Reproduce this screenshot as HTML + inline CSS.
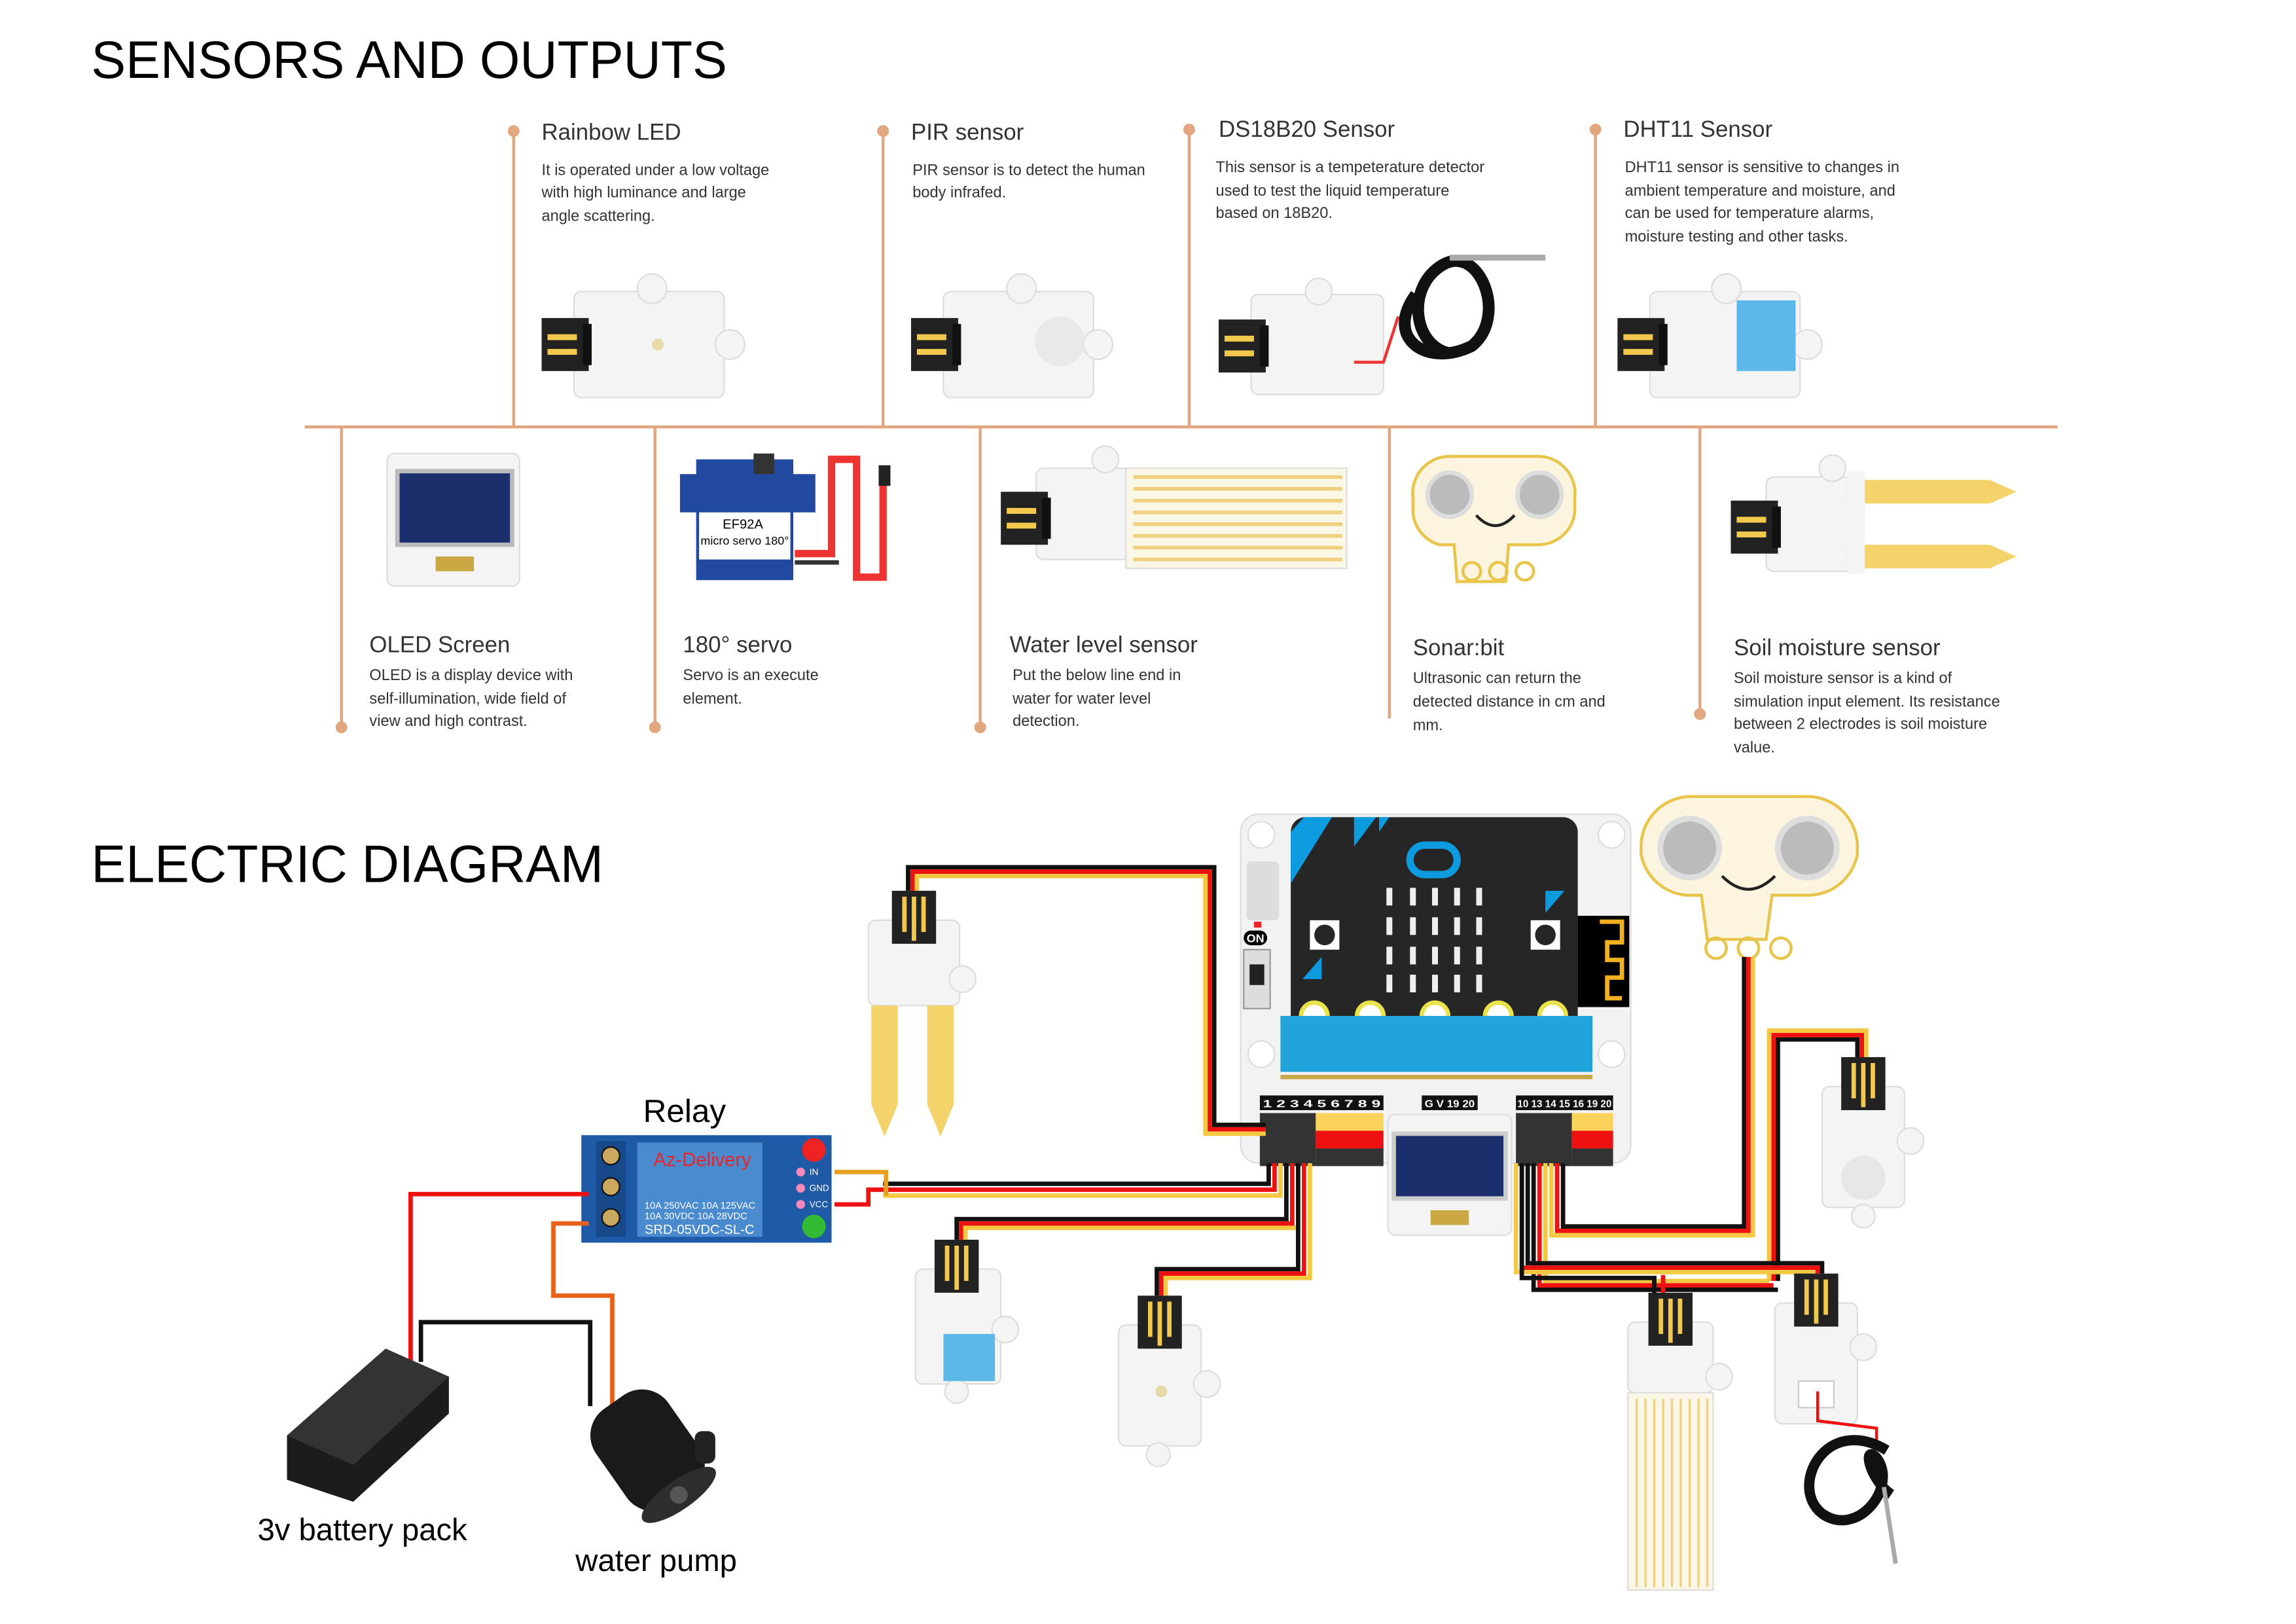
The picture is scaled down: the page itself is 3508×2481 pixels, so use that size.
<!DOCTYPE html>
<html><head><meta charset="utf-8"><style>
html,body{margin:0;padding:0;background:#fff;}
svg{display:block;}
text{font-family:"Liberation Sans",sans-serif;}
</style></head><body>
<svg width="3508" height="2481" viewBox="0 0 1560 1103" preserveAspectRatio="none" xmlns="http://www.w3.org/2000/svg">
<defs>
<g id="hc"><rect x="0" y="0" width="32" height="36" fill="#222"/><rect x="4" y="11" width="20" height="4" fill="#f2c94c"/><rect x="4" y="21" width="20" height="4" fill="#f2c94c"/><rect x="28" y="4" width="6" height="28" fill="#111"/></g>
<g id="vc"><rect x="0" y="0" width="30" height="36" fill="#222"/><rect x="7" y="4" width="3" height="24" fill="#f2c94c"/><rect x="13.5" y="4" width="3" height="30" fill="#f2c94c"/><rect x="20" y="4" width="3" height="24" fill="#f2c94c"/></g>
</defs>

<text x="62" y="53" font-size="36" textLength="432" lengthAdjust="spacingAndGlyphs">SENSORS AND OUTPUTS</text>
<text x="62" y="599" font-size="36" textLength="348" lengthAdjust="spacingAndGlyphs">ELECTRIC DIAGRAM</text>

<g stroke="#e2a77f" stroke-width="2" fill="none">
<line x1="207" y1="290" x2="1398" y2="290"/>
<line x1="349" y1="90" x2="349" y2="290"/><line x1="600" y1="90" x2="600" y2="290"/>
<line x1="808" y1="88" x2="808" y2="290"/><line x1="1084" y1="88" x2="1084" y2="290"/>
<line x1="232" y1="290" x2="232" y2="494"/><line x1="445" y1="290" x2="445" y2="494"/>
<line x1="666" y1="290" x2="666" y2="494"/><line x1="944" y1="290" x2="944" y2="488"/>
<line x1="1155" y1="290" x2="1155" y2="485"/>
</g>
<g fill="#e2a77f">
<circle cx="349" cy="89" r="4"/><circle cx="600" cy="89" r="4"/><circle cx="808" cy="88" r="4"/><circle cx="1084" cy="88" r="4"/>
<circle cx="232" cy="494" r="4"/><circle cx="445" cy="494" r="4"/><circle cx="666" cy="494" r="4"/><circle cx="1155" cy="485" r="4"/>
</g>

<g font-size="15.5" fill="#333">
<text x="368" y="95">Rainbow LED</text><text x="619" y="95">PIR sensor</text>
<text x="828" y="93">DS18B20 Sensor</text><text x="1103" y="93">DHT11 Sensor</text>
<text x="251" y="443">OLED Screen</text><text x="464" y="443">180° servo</text>
<text x="686" y="443">Water level sensor</text><text x="960" y="445">Sonar:bit</text>
<text x="1178" y="445">Soil moisture sensor</text>
</g>
<g font-size="10.5" fill="#333">
<text x="368" y="119">It is operated under a low voltage</text><text x="368" y="134">with high luminance and large</text><text x="368" y="150">angle scattering.</text>
<text x="620" y="119">PIR sensor is to detect the human</text><text x="620" y="134">body infrafed.</text>
<text x="826" y="117">This sensor is a tempeterature detector</text><text x="826" y="133">used to test the liquid temperature</text><text x="826" y="148">based on 18B20.</text>
<text x="1104" y="117">DHT11 sensor is sensitive to changes in</text><text x="1104" y="133">ambient temperature and moisture, and</text><text x="1104" y="148">can be used for temperature alarms,</text><text x="1104" y="164">moisture testing and other tasks.</text>
<text x="251" y="462">OLED is a display device with</text><text x="251" y="478">self-illumination, wide field of</text><text x="251" y="493">view and high contrast.</text>
<text x="464" y="462">Servo is an execute</text><text x="464" y="478">element.</text>
<text x="688" y="462">Put the below line end in</text><text x="688" y="478">water for water level</text><text x="688" y="493">detection.</text>
<text x="960" y="464">Ultrasonic can return the</text><text x="960" y="480">detected distance in cm and</text><text x="960" y="496">mm.</text>
<text x="1178" y="464">Soil moisture sensor is a kind of</text><text x="1178" y="480">simulation input element. Its resistance</text><text x="1178" y="495">between 2 electrodes is soil moisture</text><text x="1178" y="511">value.</text>
</g>

<g>
<rect x="390" y="198" width="102" height="72" rx="5" fill="#f4f4f4" stroke="#ddd"/><circle cx="443" cy="196" r="10" fill="#f4f4f4" stroke="#ddd"/><circle cx="496" cy="234" r="10" fill="#f4f4f4" stroke="#ddd"/>
<use href="#hc" x="368" y="216"/><circle cx="447" cy="234" r="4" fill="#e8d9a8"/>
<rect x="641" y="198" width="102" height="72" rx="5" fill="#f4f4f4" stroke="#ddd"/><circle cx="694" cy="196" r="10" fill="#f4f4f4" stroke="#ddd"/><circle cx="746" cy="234" r="10" fill="#f4f4f4" stroke="#ddd"/>
<use href="#hc" x="619" y="216"/><circle cx="720" cy="232" r="17" fill="#e9e9e9"/>
<rect x="850" y="200" width="90" height="68" rx="5" fill="#f4f4f4" stroke="#ddd"/><circle cx="896" cy="198" r="9" fill="#f4f4f4" stroke="#ddd"/>
<use href="#hc" x="828" y="217"/>
<path d="M920 246 L940 246 L950 215" stroke="#e33" stroke-width="2" fill="none"/>
<path d="M962 200 C940 230 970 250 1000 235 C1025 215 1005 165 980 180 C955 195 960 235 985 240" stroke="#111" stroke-width="8" fill="none"/>
<path d="M985 175 L1050 175" stroke="#aaa" stroke-width="4"/>
<rect x="1121" y="198" width="102" height="72" rx="5" fill="#f4f4f4" stroke="#ddd"/><circle cx="1173" cy="196" r="10" fill="#f4f4f4" stroke="#ddd"/><circle cx="1228" cy="234" r="10" fill="#f4f4f4" stroke="#ddd"/>
<use href="#hc" x="1099" y="216"/><rect x="1180" y="204" width="40" height="48" fill="#5bb8e8"/>
</g>

<g>
<rect x="263" y="308" width="90" height="90" rx="5" fill="#f4f4f4" stroke="#ddd"/><rect x="270" y="320" width="78" height="50" fill="#1b2f6e" stroke="#bbb" stroke-width="3"/><rect x="296" y="378" width="26" height="10" fill="#caa844"/>
<rect x="462" y="322" width="92" height="26" fill="#1f4aa0"/><rect x="473" y="312" width="66" height="82" fill="#1f4aa0"/><rect x="475" y="348" width="62" height="32" fill="#fff"/><rect x="512" y="308" width="14" height="14" fill="#333"/>
<text x="491" y="359" font-size="9" fill="#000">EF92A</text><text x="476" y="370" font-size="8" fill="#000">micro servo 180°</text>
<path d="M540 376 L565 376 L565 312 L582 312 L582 392 L600 392 L600 325" stroke="#e33" stroke-width="5" fill="none"/><path d="M540 382 L570 382" stroke="#333" stroke-width="3"/><rect x="597" y="316" width="8" height="14" fill="#222"/>
<rect x="704" y="318" width="64" height="62" rx="5" fill="#f4f4f4" stroke="#ddd"/><circle cx="751" cy="312" r="9" fill="#f4f4f4" stroke="#ddd"/>
<rect x="765" y="318" width="150" height="68" fill="#fbf7e6" stroke="#ddd"/>
<g stroke="#f0d080" stroke-width="2.5"><line x1="770" y1="324" x2="912" y2="324"/><line x1="770" y1="332" x2="912" y2="332"/><line x1="770" y1="340" x2="912" y2="340"/><line x1="770" y1="348" x2="912" y2="348"/><line x1="770" y1="356" x2="912" y2="356"/><line x1="770" y1="364" x2="912" y2="364"/><line x1="770" y1="372" x2="912" y2="372"/><line x1="770" y1="380" x2="912" y2="380"/></g>
<use href="#hc" x="680" y="334"/>
<path d="M960 338 a25 25 0 0 1 25 -28 l60 0 a25 25 0 0 1 25 28 l0 10 a25 25 0 0 1 -25 22 l-20 0 l-2 25 l-33 0 l-2 -25 l-10 0 a25 25 0 0 1 -18 -22z" fill="#fbf5df" stroke="#e8c44a" stroke-width="2"/>
<circle cx="985" cy="336" r="15" fill="#bbb" stroke="#ddd" stroke-width="3"/><circle cx="1046" cy="336" r="15" fill="#bbb" stroke="#ddd" stroke-width="3"/>
<path d="M1003 350 q13 14 26 0" stroke="#222" stroke-width="2" fill="none"/>
<circle cx="1000" cy="388" r="6" fill="none" stroke="#e8c44a" stroke-width="2"/><circle cx="1018" cy="388" r="6" fill="none" stroke="#e8c44a" stroke-width="2"/><circle cx="1036" cy="388" r="6" fill="none" stroke="#e8c44a" stroke-width="2"/>
<rect x="1200" y="324" width="60" height="64" rx="5" fill="#f4f4f4" stroke="#ddd"/><circle cx="1245" cy="318" r="9" fill="#f4f4f4" stroke="#ddd"/>
<path d="M1255 326 L1352 326 L1370 334 L1352 342 L1255 342z" fill="#f5d36b"/><path d="M1255 370 L1352 370 L1370 378 L1352 386 L1255 386z" fill="#f5d36b"/>
<rect x="1255" y="320" width="12" height="70" fill="#f4f4f4"/>
<use href="#hc" x="1176" y="340"/>
</g>

<rect x="843" y="553" width="265" height="237" rx="12" fill="#f2f2f2" stroke="#ddd"/>
<circle cx="857" cy="567" r="9" fill="#fff" stroke="#ddd"/><circle cx="1095" cy="567" r="9" fill="#fff" stroke="#ddd"/><circle cx="857" cy="716" r="9" fill="#fff" stroke="#ddd"/><circle cx="1095" cy="716" r="9" fill="#fff" stroke="#ddd"/>
<path d="M886 555 L1062 555 a10 10 0 0 1 10 10 L1072 690 L877 690 L877 565 a10 10 0 0 1 9 -10z" fill="#262626"/>
<path d="M877 600 L877 565 L886 555 L905 555z M920 555 L935 555 L920 575z M937 555 L944 555 L937 565z" fill="#0d9be0"/>
<rect x="958" y="574" width="32" height="20" rx="10" fill="none" stroke="#0d9be0" stroke-width="5"/>
<g fill="#eee"><rect x="942" y="603" width="4" height="12"/><rect x="958" y="603" width="4" height="12"/><rect x="973" y="603" width="4" height="12"/><rect x="988" y="603" width="4" height="12"/><rect x="1003" y="603" width="4" height="12"/>
<rect x="942" y="623" width="4" height="12"/><rect x="958" y="623" width="4" height="12"/><rect x="973" y="623" width="4" height="12"/><rect x="988" y="623" width="4" height="12"/><rect x="1003" y="623" width="4" height="12"/>
<rect x="942" y="643" width="4" height="12"/><rect x="958" y="643" width="4" height="12"/><rect x="973" y="643" width="4" height="12"/><rect x="988" y="643" width="4" height="12"/><rect x="1003" y="643" width="4" height="12"/>
<rect x="942" y="662" width="4" height="12"/><rect x="958" y="662" width="4" height="12"/><rect x="973" y="662" width="4" height="12"/><rect x="988" y="662" width="4" height="12"/><rect x="1003" y="662" width="4" height="12"/></g>
<rect x="890" y="625" width="20" height="20" fill="#fff"/><circle cx="900" cy="635" r="7" fill="#262626"/>
<rect x="1040" y="625" width="20" height="20" fill="#fff"/><circle cx="1050" cy="635" r="7" fill="#262626"/>
<path d="M885 665 L898 650 L898 665z" fill="#0d9be0"/><path d="M1050 605 L1063 605 L1050 620z" fill="#0d9be0"/>
<rect x="1072" y="622" width="35" height="62" fill="#000"/><path d="M1087 626 L1102 626 L1102 640 L1092 640 L1092 652 L1102 652 L1102 664 L1092 664 L1092 678 L1102 678" stroke="#f0b020" stroke-width="3" fill="none"/>
<circle cx="893" cy="690" r="9" fill="#fff" stroke="#e9e24a" stroke-width="3"/><circle cx="931" cy="690" r="9" fill="#fff" stroke="#e9e24a" stroke-width="3"/><circle cx="975" cy="690" r="9" fill="#fff" stroke="#e9e24a" stroke-width="3"/><circle cx="1018" cy="690" r="9" fill="#fff" stroke="#e9e24a" stroke-width="3"/><circle cx="1055" cy="690" r="9" fill="#fff" stroke="#e9e24a" stroke-width="3"/>
<rect x="870" y="690" width="212" height="38" fill="#22a3dc"/>
<rect x="870" y="730" width="212" height="3" fill="#c9a84a"/>
<rect x="847" y="585" width="22" height="40" rx="3" fill="#ddd"/><rect x="852" y="626" width="5" height="4" fill="#e22"/>
<rect x="845" y="632" width="16" height="10" rx="5" fill="#000"/><text x="847" y="640" font-size="8" fill="#fff" font-weight="bold">ON</text>
<rect x="845" y="645" width="18" height="40" fill="#ddd" stroke="#999"/><rect x="849" y="655" width="10" height="14" fill="#222"/>
<g font-size="7" font-weight="bold" fill="#fff">
<rect x="856" y="744" width="84" height="10" fill="#111"/><text x="858" y="752" textLength="80" lengthAdjust="spacingAndGlyphs">1 2 3 4 5 6 7 8 9</text>
<rect x="966" y="744" width="38" height="10" fill="#111"/><text x="968" y="752" textLength="34" lengthAdjust="spacingAndGlyphs">G V 19 20</text>
<rect x="1030" y="744" width="66" height="10" fill="#111"/><text x="1031" y="752" textLength="64" lengthAdjust="spacingAndGlyphs">10 13 14 15 16 19 20</text>
</g>
<rect x="856" y="756" width="38" height="36" fill="#333"/><rect x="894" y="756" width="46" height="12" fill="#fbd35a"/><rect x="894" y="768" width="46" height="12" fill="#e11"/><rect x="894" y="780" width="46" height="12" fill="#333"/>
<rect x="1030" y="756" width="38" height="36" fill="#333"/><rect x="1068" y="756" width="28" height="12" fill="#fbd35a"/><rect x="1068" y="768" width="28" height="12" fill="#e11"/><rect x="1068" y="780" width="28" height="12" fill="#333"/>
<rect x="943" y="757" width="84" height="82" rx="5" fill="#f4f4f4" stroke="#ddd"/><rect x="947" y="770" width="76" height="44" fill="#1b2f6e" stroke="#ccc" stroke-width="3"/><rect x="972" y="822" width="26" height="10" fill="#caa844"/>

<path d="M1115 575 a34 34 0 0 1 34 -34 l80 0 a34 34 0 0 1 33 34 l0 5 a34 34 0 0 1 -33 28 l-25 0 l-4 30 l-40 0 l-4 -30 l-10 0 a34 34 0 0 1 -31 -28z" fill="#fbf5df" stroke="#e8c44a" stroke-width="2"/>
<circle cx="1148" cy="576" r="20" fill="#bbb" stroke="#ddd" stroke-width="4"/><circle cx="1228" cy="576" r="20" fill="#bbb" stroke="#ddd" stroke-width="4"/>
<path d="M1170 595 q18 18 36 0" stroke="#222" stroke-width="2" fill="none"/>
<circle cx="1166" cy="644" r="7" fill="none" stroke="#e8c44a" stroke-width="2"/><circle cx="1188" cy="644" r="7" fill="none" stroke="#e8c44a" stroke-width="2"/><circle cx="1210" cy="644" r="7" fill="none" stroke="#e8c44a" stroke-width="2"/>

<g fill="none" stroke-width="3" stroke-linejoin="miter">
<polyline stroke="#111" points="617,605 617,589 825,589 825,764 860,764"/>
<polyline stroke="#e11" points="620,605 620,592 822,592 822,767 860,767"/>
<polyline stroke="#f5c842" points="623,605 623,595 819,595 819,770 860,770"/>
<polyline stroke="#111" points="600,804 862,804 862,790"/>
<polyline stroke="#e11" points="600,808 866,808 866,790"/>
<polyline stroke="#f5c842" points="600,812 870,812 870,790"/>
<polyline stroke="#e8a020" points="567,796 602,796 602,812"/>
<polyline stroke="#e11" points="567,818 590,818 590,808 600,808"/>
<polyline stroke="#111" points="650,842 650,828 874,828 874,790"/>
<polyline stroke="#e11" points="653,842 653,831 878,831 878,790"/>
<polyline stroke="#f5c842" points="656,842 656,834 882,834 882,790"/>
<polyline stroke="#111" points="786,880 786,862 882,862 882,790"/>
<polyline stroke="#e11" points="789,880 789,865 886,865 886,790"/>
<polyline stroke="#f5c842" points="792,880 792,868 890,868 890,790"/>
<polyline stroke="#111" points="1185,650 1185,833 1062,833 1062,790"/>
<polyline stroke="#e11" points="1188,650 1188,836 1058,836 1058,790"/>
<polyline stroke="#f5c842" points="1191,650 1191,839 1054,839 1054,790"/>
<polyline stroke="#111" points="1208,870 1208,706 1262,706 1262,718"/>
<polyline stroke="#e11" points="1205,870 1205,703 1265,703 1265,718"/>
<polyline stroke="#f5c842" points="1202,870 1202,700 1268,700 1268,718"/>
<polyline stroke="#f5c842" points="1050,790 1050,870 1202,870"/>
<polyline stroke="#e11" points="1046,790 1046,873 1205,873"/>
<polyline stroke="#111" points="1042,790 1042,876 1208,876"/>
<polyline stroke="#111" points="1038,790 1038,858 1238,858 1238,865"/>
<polyline stroke="#e11" points="1034,790 1034,861 1235,861 1235,865"/>
<polyline stroke="#f5c842" points="1030,790 1030,864 1232,864 1232,865"/>
<polyline stroke="#111" points="1124,880 1124,868 1034,868 1034,790"/>
<polyline stroke="#e11" points="1130,880 1130,866"/>
</g>

<rect x="395" y="771" width="170" height="73" fill="#1e5aa5"/>
<rect x="405" y="775" width="20" height="65" fill="#17498a"/>
<circle cx="415" cy="785" r="6" fill="#c9a860" stroke="#111"/><circle cx="415" cy="806" r="6" fill="#c9a860" stroke="#111"/><circle cx="415" cy="827" r="6" fill="#c9a860" stroke="#111"/>
<rect x="433" y="776" width="85" height="64" fill="#4a8bd0"/>
<text x="444" y="792" font-size="13" fill="#e22">Az-Delivery</text>
<text x="438" y="821" font-size="6.5" fill="#fff">10A 250VAC 10A 125VAC</text><text x="438" y="828" font-size="6.5" fill="#fff">10A 30VDC 10A 28VDC</text>
<text x="438" y="838" font-size="9" fill="#fff">SRD-05VDC-SL-C</text>
<circle cx="553" cy="781" r="8" fill="#e22"/><circle cx="553" cy="833" r="8" fill="#3b3"/>
<circle cx="544" cy="796" r="3" fill="#f8b"/><circle cx="544" cy="807" r="3" fill="#f8b"/><circle cx="544" cy="818" r="3" fill="#f8b"/>
<text x="550" y="798" font-size="6" fill="#fff">IN</text><text x="550" y="809" font-size="6" fill="#fff">GND</text><text x="550" y="820" font-size="6" fill="#fff">VCC</text>
<text x="437" y="762" font-size="22">Relay</text>

<g fill="none" stroke-width="3">
<polyline stroke="#e11" points="400,811 279,811 279,925"/>
<polyline stroke="#111" points="286,925 286,898 401,898 401,955"/>
<polyline stroke="#e8601a" points="400,831 376,831 376,880 416,880 416,955"/>
</g>
<path d="M195 975 L262 916 L305 935 L305 960 L240 1020 L195 1005z" fill="#1c1c1c"/>
<path d="M195 975 L262 916 L305 935 L240 995z" fill="#333"/>
<g transform="rotate(-35 440 985)"><rect x="410" y="945" width="60" height="80" rx="22" fill="#1a1a1a"/><ellipse cx="440" cy="1022" rx="30" ry="10" fill="#2d2d2d"/><circle cx="440" cy="1022" r="6" fill="#555"/></g>
<rect x="472" y="972" width="14" height="22" rx="5" fill="#222"/>
<text x="175" y="1046" font-size="21">3v battery pack</text>
<text x="391" y="1067" font-size="21">water pump</text>

<rect x="590" y="625" width="62" height="58" rx="5" fill="#f4f4f4" stroke="#ddd"/><circle cx="654" cy="665" r="9" fill="#f4f4f4" stroke="#ddd"/>
<path d="M592 683 L610 683 L610 750 L601 772 L592 750z M630 683 L648 683 L648 750 L639 772 L630 750z" fill="#f5d36b"/>
<use href="#vc" x="606" y="605"/>
<rect x="622" y="862" width="58" height="78" rx="5" fill="#f4f4f4" stroke="#ddd"/><circle cx="683" cy="903" r="9" fill="#f4f4f4" stroke="#ddd"/><circle cx="650" cy="945" r="8" fill="#f4f4f4" stroke="#ddd"/>
<rect x="641" y="906" width="35" height="32" fill="#5bb8e8"/>
<use href="#vc" x="635" y="842"/>
<rect x="760" y="900" width="56" height="82" rx="5" fill="#f4f4f4" stroke="#ddd"/><circle cx="820" cy="940" r="9" fill="#f4f4f4" stroke="#ddd"/><circle cx="787" cy="988" r="8" fill="#f4f4f4" stroke="#ddd"/>
<circle cx="789" cy="945" r="4" fill="#e8d9a8"/>
<use href="#vc" x="773" y="880"/>
<rect x="1238" y="738" width="56" height="82" rx="5" fill="#f4f4f4" stroke="#ddd"/><circle cx="1298" cy="775" r="9" fill="#f4f4f4" stroke="#ddd"/><circle cx="1266" cy="826" r="8" fill="#f4f4f4" stroke="#ddd"/>
<circle cx="1266" cy="800" r="15" fill="#e6e6e6"/>
<use href="#vc" x="1251" y="718"/>
<rect x="1106" y="898" width="58" height="48" rx="5" fill="#f4f4f4" stroke="#ddd"/><circle cx="1168" cy="935" r="9" fill="#f4f4f4" stroke="#ddd"/>
<rect x="1106" y="946" width="58" height="134" fill="#fbf7e6" stroke="#ddd"/>
<g stroke="#f0d080" stroke-width="1.5"><line x1="1112" y1="950" x2="1112" y2="1078"/><line x1="1118" y1="950" x2="1118" y2="1078"/><line x1="1124" y1="950" x2="1124" y2="1078"/><line x1="1130" y1="950" x2="1130" y2="1078"/><line x1="1136" y1="950" x2="1136" y2="1078"/><line x1="1142" y1="950" x2="1142" y2="1078"/><line x1="1148" y1="950" x2="1148" y2="1078"/><line x1="1154" y1="950" x2="1154" y2="1078"/><line x1="1160" y1="950" x2="1160" y2="1078"/></g>
<use href="#vc" x="1120" y="878"/>
<rect x="1206" y="885" width="56" height="82" rx="5" fill="#f4f4f4" stroke="#ddd"/><circle cx="1266" cy="915" r="9" fill="#f4f4f4" stroke="#ddd"/>
<rect x="1222" y="938" width="24" height="18" fill="#fff" stroke="#ccc"/>
<path d="M1235 945 L1235 965 L1275 970 L1275 985" stroke="#e11" stroke-width="2" fill="none"/>
<path d="M1282 985 C1240 960 1215 1010 1238 1028 C1262 1045 1290 1010 1275 990 C1265 980 1270 1005 1285 1015" stroke="#111" stroke-width="7" fill="none"/>
<path d="M1280 1010 L1288 1062" stroke="#aaa" stroke-width="3"/>
<use href="#vc" x="1219" y="865"/>
</svg>
</body></html>
